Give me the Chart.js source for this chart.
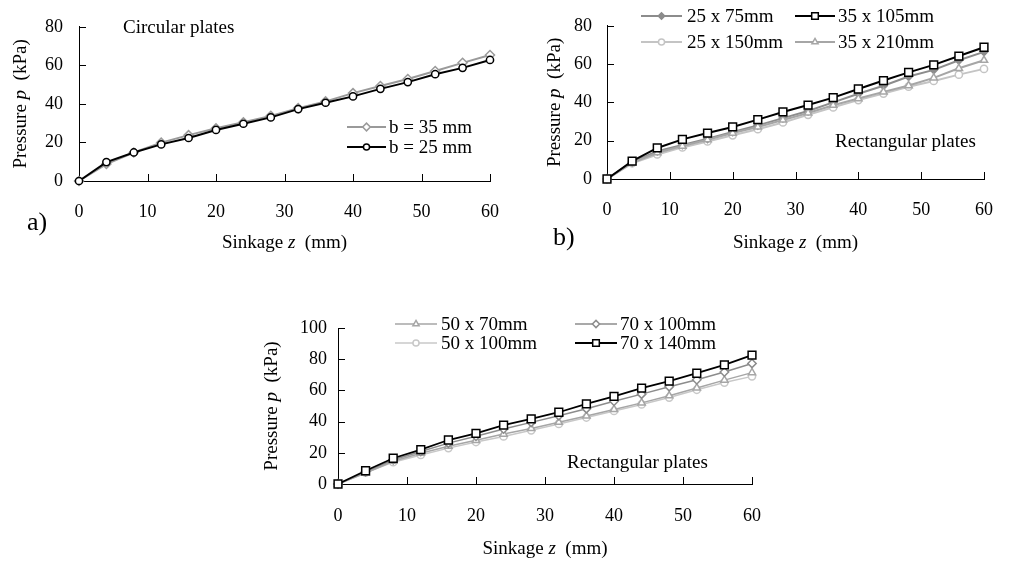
<!DOCTYPE html>
<html><head><meta charset="utf-8">
<script src="https://cdn.jsdelivr.net/npm/chart.js@4"></script>
<style>
html,body{margin:0;padding:0;background:#fff;width:1013px;height:562px;overflow:hidden}
canvas{position:absolute;left:0;top:0}
</style></head><body>
<canvas id="ca" width="1013" height="562"></canvas>
<canvas id="cb" width="1013" height="562"></canvas>
<canvas id="cc" width="1013" height="562"></canvas>
<script>
// ---------- data ----------
const sinkage = [0,4,8,12,16,20,24,28,32,36,40,44,48,52,56,60];
const xTicks = [0,10,20,30,40,50,60];
const yTicks80 = [0,20,40,60,80];
const yTicks100 = [0,20,40,60,80,100];

// a) circular plates
const circ35 = [0,8.8,14.8,19.9,23.8,27.4,30.5,33.8,37.8,41.3,45.6,49.3,52.9,57.1,61.3,65.4];
const circ25 = [0,9.8,14.8,19.0,22.3,26.5,29.7,33.0,37.3,40.6,43.9,47.8,51.3,55.4,58.7,62.8];

// b) rectangular plates
const r25x75  = [0,8.8,14.5,17.8,21.0,24.6,28.0,31.8,35.5,40.0,44.5,48.7,53.5,57.0,62.0,66.4];
const r35x105 = [0,9.3,16.2,20.7,24.0,27.2,31.0,35.0,38.6,42.5,47.0,51.4,55.7,59.6,64.2,68.8];
const r25x150 = [0,8.2,12.8,16.5,19.6,22.8,26.0,29.5,33.5,37.4,41.2,44.6,48.2,51.2,54.5,57.5];
const r35x210 = [0,8.5,13.7,17.2,20.5,24.0,27.2,30.8,34.5,38.5,42.0,45.5,48.8,52.8,57.8,62.0];

// c) rectangular plates
const r50x70  = [0,7.0,14.6,19.7,24.2,28.0,32.0,35.6,39.6,43.6,47.8,52.0,56.6,61.6,66.6,71.4];
const r70x100 = [0,7.8,15.5,20.8,26.2,30.6,35.2,39.5,43.8,48.3,53.0,57.6,62.4,66.8,71.8,77.3];
const r50x100 = [0,7.2,14.0,18.6,23.0,26.9,30.5,34.4,38.5,42.6,46.8,51.0,55.4,60.4,65.0,69.0];
const r70x140 = [0,8.5,16.5,22.0,28.2,32.4,37.8,41.8,46.0,51.3,56.2,61.4,66.0,71.0,76.4,82.6];

// ---------- helpers ----------
const FONT = "'Liberation Serif','Times New Roman',serif";
const pts = arr => arr.map((v,i)=>({x:sinkage[i], y:v}));

function drawMarker(ctx, style, x, y, r) {
  ctx.beginPath();
  if (style === 'circle') {
    ctx.arc(x, y, r, 0, Math.PI*2);
  } else if (style === 'rect') {
    const s = r*Math.SQRT1_2;
    ctx.rect(x-s, y-s, 2*s, 2*s);
  } else if (style === 'rectRot') {
    ctx.moveTo(x-r, y); ctx.lineTo(x, y+r); ctx.lineTo(x+r, y); ctx.lineTo(x, y-r);
  } else if (style === 'triangle') {
    let a = 0;
    ctx.moveTo(x+Math.sin(a)*r, y-Math.cos(a)*r);
    a += 2*Math.PI/3; ctx.lineTo(x+Math.sin(a)*r, y-Math.cos(a)*r);
    a += 2*Math.PI/3; ctx.lineTo(x+Math.sin(a)*r, y-Math.cos(a)*r);
  }
  ctx.closePath();
  ctx.fill(); ctx.stroke();
}

function drawMixed(ctx, parts, size) {
  // parts: [text, italic]
  let w = 0;
  const ws = parts.map(p => { ctx.font = (p[1]?'italic ':'') + size + 'px ' + FONT; const m = ctx.measureText(p[0]).width; w += m; return m; });
  return {w, ws};
}
function drawMixedAt(ctx, parts, size, cx, baseY) {
  const {w, ws} = drawMixed(ctx, parts, size);
  let x = cx - w/2;
  ctx.textAlign = 'left'; ctx.textBaseline = 'alphabetic'; ctx.fillStyle = '#000';
  parts.forEach((p,i) => { ctx.font = (p[1]?'italic ':'') + size + 'px ' + FONT; ctx.fillText(p[0], x, baseY); x += ws[i]; });
}

const decor = {
  id: 'decor',
  beforeDatasetsDraw(chart, args, o) {
    const ctx = chart.ctx, ca = chart.chartArea;
    const xs = chart.scales.x, ys = chart.scales.y;
    ctx.save();
    ctx.strokeStyle = '#000'; ctx.lineWidth = 1;
    ctx.beginPath();
    xs.ticks.forEach(t => { const px = Math.round(xs.getPixelForValue(t.value)) + 0.5; ctx.moveTo(px, ca.bottom); ctx.lineTo(px, ca.bottom - 7); });
    ys.ticks.forEach(t => { const py = Math.round(ys.getPixelForValue(t.value)) + 0.5; ctx.moveTo(ca.left, py); ctx.lineTo(ca.left + 7, py); });
    ctx.stroke();
    ctx.restore();
  },
  afterDraw(chart, args, o) {
    const ctx = chart.ctx, ca = chart.chartArea;
    ctx.save();
    // free texts
    (o.texts||[]).forEach(t => {
      ctx.font = t.size + 'px ' + FONT; ctx.fillStyle = '#000';
      ctx.textAlign = 'left'; ctx.textBaseline = 'alphabetic';
      ctx.fillText(t.text, t.x, t.y);
    });
    // axis titles
    if (o.xTitle) drawMixedAt(ctx, o.xTitle.parts, 19, (ca.left+ca.right)/2 + (o.xTitle.dx||0), o.xTitle.y);
    if (o.yTitle) {
      ctx.save();
      ctx.translate(o.yTitle.x, (ca.top+ca.bottom)/2 + (o.yTitle.dy||0));
      ctx.rotate(-Math.PI/2);
      drawMixedAt(ctx, o.yTitle.parts, 19, 0, 0);
      ctx.restore();
    }
    // legend
    (o.legend||[]).forEach(it => {
      const ds = chart.data.datasets[it.ds];
      ctx.strokeStyle = ds.borderColor; ctx.lineWidth = ds.borderWidth;
      ctx.beginPath(); ctx.moveTo(it.x1, it.y); ctx.lineTo(it.x2, it.y); ctx.stroke();
      ctx.fillStyle = ds.pointBackgroundColor; ctx.strokeStyle = ds.pointBorderColor; ctx.lineWidth = ds.pointBorderWidth;
      drawMarker(ctx, ds.pointStyle, (it.x1+it.x2)/2, it.y, ds.pointRadius*0.85);
      ctx.font = '19px ' + FONT; ctx.fillStyle = '#000'; ctx.textAlign = 'left'; ctx.textBaseline = 'middle';
      ctx.fillText(ds.label, it.tx, it.y + 1);
    });
    ctx.restore();
  }
};

function ds(label, data, color, style, radius, width, fill, order) {
  return {label, data: pts(data), borderColor: color, borderWidth: width,
    pointStyle: style, pointRadius: radius, pointHoverRadius: radius,
    pointBackgroundColor: fill, pointBorderColor: color, pointBorderWidth: 1.5,
    tension: 0, fill: false, clip: false, order};
}

function makeChart(id, datasets, yTicksArr, geo, decorOpts) {
  const yMax = yTicksArr[yTicksArr.length-1];
  return new Chart(document.getElementById(id), {
    type: 'line',
    data: {datasets},
    options: {
      responsive: false, animation: false, events: [],
      layout: {padding: geo.padding},
      plugins: {legend: {display: false}, tooltip: {enabled: false}, decor: decorOpts},
      scales: {
        x: {type: 'linear', min: 0, max: 60,
          grid: {display: false, drawTicks: false},
          border: {display: true, color: '#000', width: 1},
          ticks: {stepSize: 10, padding: geo.xPad, color: '#000', font: {family: FONT, size: 18}},
          afterBuildTicks: s => { s.ticks = xTicks.map(v => ({value: v})); },
          afterFit: s => { s.height = 60; }
        },
        y: {type: 'linear', min: 0, max: yMax,
          grid: {display: false, drawTicks: false},
          border: {display: true, color: '#000', width: 1},
          ticks: {stepSize: 20, padding: geo.yPad, color: '#000', font: {family: FONT, size: 18}},
          afterBuildTicks: s => { s.ticks = yTicksArr.map(v => ({value: v})); },
          afterFit: s => { s.width = geo.yWidth; }
        }
      }
    },
    plugins: [decor]
  });
}

const XT = [['Sinkage ', false], ['z', true], ['  (mm)', false]];
const YT = [['Pressure ', false], ['p', true], ['  (kPa)', false]];

// a)
makeChart('ca', [
  ds('b = 35 mm', circ35, '#9a9a9a', 'rectRot', 4.5, 2, '#ffffff', 1),
  ds('b = 25 mm', circ25, '#000000', 'circle', 3.6, 2, '#ffffff', 0)
], yTicks80,
  {padding: {left: 0, top: 18, right: 523, bottom: 321}, yWidth: 79, xPad: 20, yPad: 16},
  {texts: [{text: 'Circular plates', x: 123, y: 33, size: 19}, {text: 'a)', x: 27, y: 230, size: 26}],
   xTitle: {parts: XT, y: 248}, yTitle: {parts: YT, x: 25.5},
   legend: [{ds: 0, x1: 347, x2: 386, y: 127, tx: 389}, {ds: 1, x1: 347, x2: 386, y: 147, tx: 389}]});

// b)
makeChart('cb', [
  ds('25 x 75mm', r25x75, '#8c8c8c', 'rectRot', 3.8, 2, '#8c8c8c', 2),
  ds('35 x 105mm', r35x105, '#000000', 'rect', 5.5, 2, '#ffffff', 0),
  ds('25 x 150mm', r25x150, '#c4c4c4', 'circle', 3.6, 2, '#ffffff', 3),
  ds('35 x 210mm', r35x210, '#a6a6a6', 'triangle', 4.2, 2, '#ffffff', 1)
], yTicks80,
  {padding: {left: 547, top: 19, right: 14, bottom: 323}, yWidth: 60, xPad: 20, yPad: 15},
  {texts: [{text: 'Rectangular plates', x: 835, y: 147, size: 19}, {text: 'b)', x: 553, y: 245, size: 26}],
   xTitle: {parts: XT, y: 248}, yTitle: {parts: YT, x: 560},
   legend: [{ds: 0, x1: 641, x2: 682, y: 16, tx: 687}, {ds: 1, x1: 795, x2: 835, y: 16, tx: 838},
            {ds: 2, x1: 641, x2: 682, y: 42, tx: 687}, {ds: 3, x1: 795, x2: 835, y: 42, tx: 838}]});

// c)
makeChart('cc', [
  ds('50 x 70mm', r50x70, '#a6a6a6', 'triangle', 4.2, 1.5, '#ffffff', 2),
  ds('70 x 100mm', r70x100, '#8c8c8c', 'rectRot', 4.2, 1.5, '#ffffff', 1),
  ds('50 x 100mm', r50x100, '#c8c8c8', 'circle', 3.6, 1.5, '#ffffff', 3),
  ds('70 x 140mm', r70x140, '#000000', 'rect', 5.5, 1.8, '#ffffff', 0)
], yTicks100,
  {padding: {left: 278, top: 328, right: 261, bottom: 18}, yWidth: 60, xPad: 21, yPad: 11},
  {texts: [{text: 'Rectangular plates', x: 567, y: 468, size: 19}],
   xTitle: {parts: XT, y: 554}, yTitle: {parts: YT, x: 277},
   legend: [{ds: 0, x1: 395, x2: 437, y: 324, tx: 441}, {ds: 1, x1: 575, x2: 617, y: 324, tx: 620},
            {ds: 2, x1: 395, x2: 437, y: 343, tx: 441}, {ds: 3, x1: 575, x2: 617, y: 343, tx: 620}]});
</script>
</body></html>
